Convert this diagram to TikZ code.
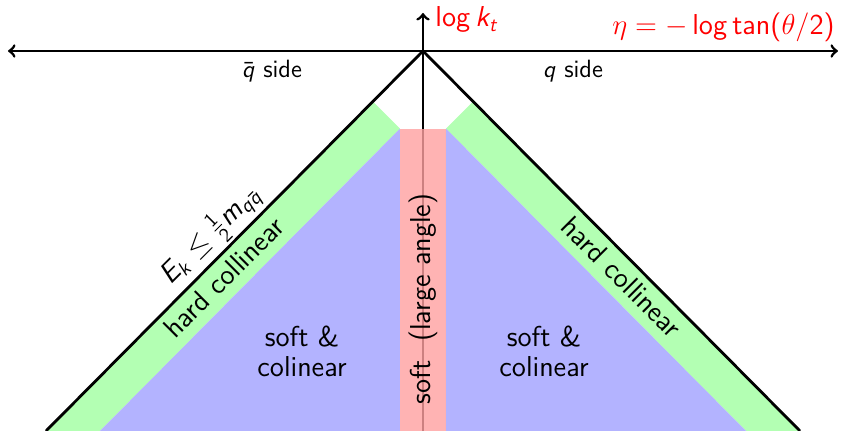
\documentclass[tikz,border=0pt]{standalone}
\usepackage{tikz}
\usetikzlibrary{calc}
\renewcommand{\familydefault}{\sfdefault}
% sans serif math for latin letters and digits, greek stays cm
\DeclareSymbolFont{operators}{OT1}{cmss}{m}{n}
\DeclareSymbolFont{sfletters}{OT1}{cmss}{m}{sl}
\DeclareMathSymbol{E}{\mathalpha}{sfletters}{`E}
\DeclareMathSymbol{k}{\mathalpha}{sfletters}{`k}
\DeclareMathSymbol{m}{\mathalpha}{sfletters}{`m}
\DeclareMathSymbol{q}{\mathalpha}{sfletters}{`q}
\DeclareMathSymbol{t}{\mathalpha}{sfletters}{`t}
\usepackage{xcolor}
\definecolor{hardcol}{HTML}{B3FFB3}
\definecolor{softcol}{HTML}{B3B3FF}
\definecolor{wideang}{HTML}{FFA0A0}

\begin{document}
\begin{tikzpicture}[x=0.5pt,y=0.5pt,line join=round,
    axis/.style={line width=1.4pt,black},
    region/.style={font=\fontsize{14.4}{15}\selectfont,align=center,inner sep=0pt},
    sidelabel/.style={font=\fontsize{12.5}{14}\selectfont,anchor=base,inner sep=0pt},
    redlabel/.style={red,font=\fontsize{14.4}{17}\selectfont,inner sep=0pt}]
  \useasboundingbox (-423,-380) rectangle (418,51);
  % apex of the triangle at the origin, base at y=-380
  \coordinate (O) at (0,0);
  \coordinate (L) at (-377,-380);
  \coordinate (R) at (377,-380);
  \coordinate (Li) at (-323,-380);
  \coordinate (Ri) at (323,-380);
  \coordinate (Pl) at (-23,-380);
  \coordinate (Pr) at (23,-380);
  \coordinate (Tl) at (-23,-77.6);
  \coordinate (Tr) at (23,-77.6);
  \coordinate (Cl) at (-50.1,-50.5);
  \coordinate (Cr) at (50.1,-50.5);
  \coordinate (xl) at (-415,0);
  \coordinate (xr) at (415,0);
  \coordinate (yb) at (0,-380);
  \coordinate (yt) at (0,38);
  % regions
  \fill[hardcol] (L)--(Li)--(Tl)--(Cl)--cycle;
  \fill[hardcol] (R)--(Ri)--(Tr)--(Cr)--cycle;
  \fill[softcol] (Li)--(Pl)--(Tl)--cycle;
  \fill[softcol] (Ri)--(Pr)--(Tr)--cycle;
  % axes
  \draw[axis,<->] (xl) -- (xr);
  \draw[axis,->] (yb) -- (yt);
  \draw[axis] (L) -- (O) -- (R);
  \fill[wideang,fill opacity=0.8] (Pl) rectangle (Tr);
  % labels
  \node[redlabel,anchor=base west] (logk) at (12,24) {$\log k_t$};
  \node[redlabel,anchor=base east] (eta) at (412,16) {$\eta=-\log\tan(\theta/2)$};
  \node[sidelabel] (qbar) at (-151,-27) {$\bar q$ side};
  \node[sidelabel] (q) at (150,-27) {$q$ side};
  \node[region] (softl) at (-121,-300) {soft \&\\colinear};
  \node[region] (softr) at (121,-300) {soft \&\\colinear};
  \node[region,rotate=90] (wide) at (0,-248) {soft~~(large angle)};
  \node[region,rotate=45] (hardl) at (-199,-226) {hard collinear};
  \node[region,rotate=-45] (hardr) at (199,-226) {hard collinear};
  \node[region,rotate=45,anchor=south,inner sep=1.5pt] (ek) at (-198,-199) {$E_k\le\frac12 m_{q\bar q}$};
\end{tikzpicture}
\end{document}
